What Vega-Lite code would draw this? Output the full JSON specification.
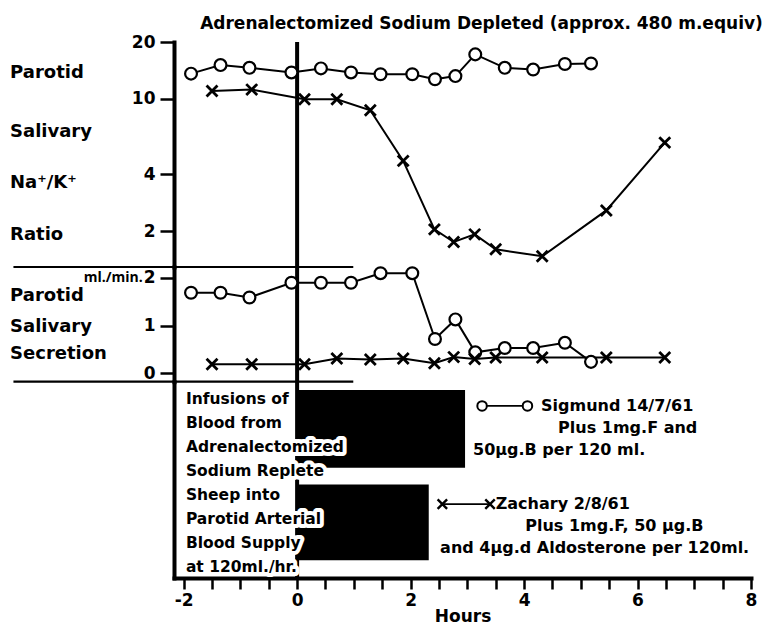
{
  "$schema": "https://vega.github.io/schema/vega-lite/v6.json",
  "width": 577,
  "height": 536,
  "autosize": {"type": "none"},
  "padding": {"left": 174, "top": 42, "right": 19, "bottom": 51},
  "background": "white",
  "title": {"text": "Adrenalectomized Sodium Depleted (approx. 480 m.equiv)", "fontSize": 17, "fontWeight": "bold", "font": "DejaVu Sans", "anchor": "middle", "dx": 19, "offset": 0, "color": "black"},
  "config": {
    "view": {"stroke": null},
    "font": "DejaVu Sans",
    "axis": {"grid": false, "domainColor": "black", "tickColor": "black", "labelColor": "black", "labelFontSize": 17, "labelFontWeight": "bold", "labelFont": "DejaVu Sans", "titleFont": "DejaVu Sans", "titleColor": "black", "titleFontWeight": "bold", "titleFontSize": 17, "domainWidth": 4, "tickWidth": 2.5, "domainCap": "square"},
    "axisX": {"values": [-2, -1, 0, 1, 2, 3, 4, 5, 6, 7, 8], "tickSize": 11, "labelExpr": "datum.value % 2 === 0 ? toString(datum.value) : ''", "labelPadding": 3, "titlePadding": 0, "labelFlush": false, "labelOverlap": false},
    "text": {"color": "black", "font": "DejaVu Sans", "fontWeight": "bold"}
  },
  "datasets": {
    "sig": [
      {"h": -1.87, "ratio": 13.6, "sec": 1.69},
      {"h": -1.35, "ratio": 15.1, "sec": 1.69},
      {"h": -0.84, "ratio": 14.6, "sec": 1.59},
      {"h": -0.10, "ratio": 13.8, "sec": 1.90},
      {"h": 0.42, "ratio": 14.5, "sec": 1.90},
      {"h": 0.95, "ratio": 13.8, "sec": 1.90},
      {"h": 1.47, "ratio": 13.5, "sec": 2.10},
      {"h": 2.03, "ratio": 13.5, "sec": 2.10},
      {"h": 2.43, "ratio": 12.7, "sec": 0.72},
      {"h": 2.79, "ratio": 13.2, "sec": 1.13},
      {"h": 3.14, "ratio": 17.2, "sec": 0.44},
      {"h": 3.66, "ratio": 14.6, "sec": 0.53},
      {"h": 4.16, "ratio": 14.3, "sec": 0.53},
      {"h": 4.72, "ratio": 15.3, "sec": 0.64},
      {"h": 5.18, "ratio": 15.4, "sec": 0.24}
    ],
    "zac": [
      {"h": -1.50, "ratio": 11.0, "sec": 0.19},
      {"h": -0.80, "ratio": 11.2, "sec": 0.19},
      {"h": 0.13, "ratio": 9.95, "sec": 0.19},
      {"h": 0.70, "ratio": 9.95, "sec": 0.31},
      {"h": 1.29, "ratio": 8.7, "sec": 0.29},
      {"h": 1.87, "ratio": 4.7, "sec": 0.31},
      {"h": 2.42, "ratio": 2.04, "sec": 0.21},
      {"h": 2.76, "ratio": 1.75, "sec": 0.34},
      {"h": 3.13, "ratio": 1.92, "sec": 0.30},
      {"h": 3.50, "ratio": 1.60, "sec": 0.33},
      {"h": 4.32, "ratio": 1.47, "sec": 0.33},
      {"h": 5.45, "ratio": 2.57, "sec": 0.33},
      {"h": 6.48, "ratio": 5.87, "sec": 0.33}
    ],
    "zero": [{"h": 0}],
    "toplbl": [
      {"h": -5.06, "ratio": 13.7, "t": "Parotid"},
      {"h": -5.06, "ratio": 6.65, "t": "Salivary"},
      {"h": -5.06, "ratio": 3.58, "t": "Na⁺/K⁺"},
      {"h": -5.06, "ratio": 1.90, "t": "Ratio"}
    ],
    "midlbl": [
      {"h": -5.06, "sec": 1.62, "t": "Parotid"},
      {"h": -5.06, "sec": 0.97, "t": "Salivary"},
      {"h": -5.06, "sec": 0.40, "t": "Secretion"}
    ],
    "unit": [{"h": -2.72, "sec": 2.0, "t": "ml./min."}],
    "sep": [
      {"h": -5.0, "h2": 0.99, "sec": 2.23},
      {"h": -5.0, "h2": 0.99, "sec": -0.176}
    ],
    "bars": [
      {"h": 0, "h2": 2.96, "r": 0.34, "r2": 3.55},
      {"h": 0, "h2": 2.32, "r": 4.24, "r2": 7.37}
    ],
    "info": [
      {"h": -1.96, "r": 0.71, "t": "Infusions of"},
      {"h": -1.96, "r": 1.70, "t": "Blood from"},
      {"h": -1.96, "r": 2.69, "t": "Adrenalectomized"},
      {"h": -1.96, "r": 3.68, "t": "Sodium Replete"},
      {"h": -1.96, "r": 4.67, "t": "Sheep into"},
      {"h": -1.96, "r": 5.66, "t": "Parotid Arterial"},
      {"h": -1.96, "r": 6.65, "t": "Blood Supply"},
      {"h": -1.96, "r": 7.64, "t": "at 120ml./hr."}
    ],
    "legline": [
      {"h": 3.26, "h2": 4.06, "r": 1.0},
      {"h": 2.56, "h2": 3.40, "r": 5.05}
    ],
    "legsig": [{"h": 3.26, "r": 1.0}, {"h": 4.06, "r": 1.0}],
    "legzac": [{"h": 2.56, "r": 5.05}, {"h": 3.40, "r": 5.05}],
    "legtxt": [
      {"h": 4.30, "r": 1.0, "t": "Sigmund 14/7/61"},
      {"h": 4.60, "r": 1.91, "t": "Plus 1mg.F and"},
      {"h": 3.10, "r": 2.82, "t": "50µg.B per 120 ml."},
      {"h": 3.50, "r": 5.05, "t": "Zachary 2/8/61"},
      {"h": 4.02, "r": 5.96, "t": "Plus 1mg.F, 50 µg.B"},
      {"h": 2.52, "r": 6.87, "t": "and 4µg.d Aldosterone per 120ml."}
    ]
  },
  "resolve": {"scale": {"y": "independent"}, "axis": {"y": "independent"}},
  "layer": [
    {
      "data": {"name": "zero"},
      "mark": {"type": "rule", "color": "black", "strokeWidth": 4},
      "encoding": {"x": {"field": "h", "type": "quantitative", "title": "Hours", "scale": {"domain": [-2.17, 8], "nice": false, "zero": false}}}
    },
    {
      "encoding": {
        "x": {"field": "h", "type": "quantitative", "title": "Hours", "scale": {"domain": [-2.17, 8], "nice": false, "zero": false}},
        "y": {"field": "ratio", "type": "quantitative", "scale": {"type": "log", "domain": [1.29, 20], "range": [225, 0], "nice": false}, "axis": {"orient": "left", "values": [2, 4, 10, 20], "title": null, "tickSize": 14, "labelPadding": 5}}
      },
      "layer": [
        {"data": {"name": "sig"}, "mark": {"type": "line", "color": "black", "strokeWidth": 2}},
        {"data": {"name": "zac"}, "mark": {"type": "line", "color": "black", "strokeWidth": 2}},
        {"data": {"name": "sig"}, "mark": {"type": "point", "shape": "circle", "filled": true, "fill": "white", "stroke": "black", "strokeWidth": 2.2, "size": 140, "opacity": 1}},
        {"data": {"name": "zac"}, "mark": {"type": "point", "shape": "M-1,-1L1,1M-1,1L1,-1", "filled": false, "stroke": "black", "strokeWidth": 2.8, "size": 120, "opacity": 1}},
        {"data": {"name": "toplbl"}, "mark": {"type": "text", "align": "left", "baseline": "middle", "fontSize": 18}, "encoding": {"text": {"field": "t"}}}
      ]
    },
    {
      "encoding": {
        "x": {"field": "h", "type": "quantitative", "title": "Hours", "scale": {"domain": [-2.17, 8], "nice": false, "zero": false}},
        "y": {"field": "sec", "type": "quantitative", "scale": {"domain": [-0.176, 2.23], "range": [339.7, 225], "nice": false, "zero": false}, "axis": {"orient": "left", "values": [0, 1, 2], "title": null, "tickSize": 14, "labelPadding": 5}}
      },
      "layer": [
        {"data": {"name": "sep"}, "mark": {"type": "rule", "color": "black", "strokeWidth": 2.2}, "encoding": {"x2": {"field": "h2"}}},
        {"data": {"name": "sig"}, "mark": {"type": "line", "color": "black", "strokeWidth": 2}},
        {"data": {"name": "zac"}, "mark": {"type": "line", "color": "black", "strokeWidth": 2}},
        {"data": {"name": "sig"}, "mark": {"type": "point", "shape": "circle", "filled": true, "fill": "white", "stroke": "black", "strokeWidth": 2.2, "size": 140, "opacity": 1}},
        {"data": {"name": "zac"}, "mark": {"type": "point", "shape": "M-1,-1L1,1M-1,1L1,-1", "filled": false, "stroke": "black", "strokeWidth": 2.8, "size": 120, "opacity": 1}},
        {"data": {"name": "midlbl"}, "mark": {"type": "text", "align": "left", "baseline": "middle", "fontSize": 18}, "encoding": {"text": {"field": "t"}}},
        {"data": {"name": "unit"}, "mark": {"type": "text", "align": "right", "baseline": "middle", "fontSize": 14, "font": "Open Sans", "fontWeight": 700}, "encoding": {"text": {"field": "t"}}}
      ]
    },
    {
      "encoding": {
        "x": {"field": "h", "type": "quantitative", "title": "Hours", "scale": {"domain": [-2.17, 8], "nice": false, "zero": false}},
        "y": {"field": "r", "type": "quantitative", "scale": {"domain": [0, 8.1], "range": [339.7, 536], "nice": false, "zero": false}, "axis": {"orient": "left", "labels": false, "ticks": false, "title": null}}
      },
      "layer": [
        {"data": {"name": "bars"}, "mark": {"type": "rect", "color": "black"}, "encoding": {"x2": {"field": "h2"}, "y2": {"field": "r2"}}},
        {"data": {"name": "info"}, "mark": {"type": "text", "align": "left", "baseline": "middle", "fontSize": 15.5, "fill": "white", "stroke": "white", "strokeWidth": 8, "strokeJoin": "round"}, "encoding": {"text": {"field": "t"}}},
        {"data": {"name": "info"}, "mark": {"type": "text", "align": "left", "baseline": "middle", "fontSize": 15.5}, "encoding": {"text": {"field": "t"}}},
        {"data": {"name": "legline"}, "mark": {"type": "rule", "color": "black", "strokeWidth": 1.8}, "encoding": {"x2": {"field": "h2"}}},
        {"data": {"name": "legsig"}, "mark": {"type": "point", "shape": "circle", "filled": true, "fill": "white", "stroke": "black", "strokeWidth": 2, "size": 90, "opacity": 1}},
        {"data": {"name": "legzac"}, "mark": {"type": "point", "shape": "M-1,-1L1,1M-1,1L1,-1", "filled": false, "stroke": "black", "strokeWidth": 2.4, "size": 90, "opacity": 1}},
        {"data": {"name": "legtxt"}, "mark": {"type": "text", "align": "left", "baseline": "middle", "fontSize": 16}, "encoding": {"text": {"field": "t"}}}
      ]
    }
  ]
}
